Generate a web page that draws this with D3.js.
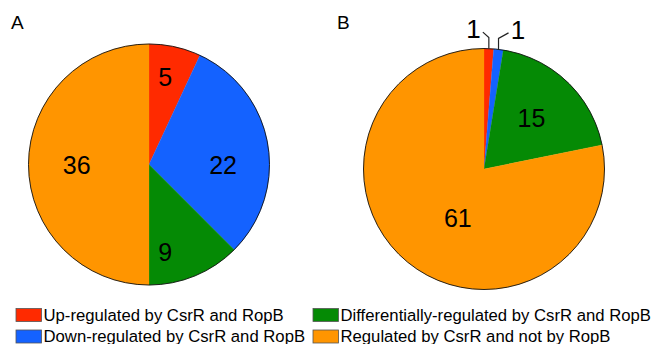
<!DOCTYPE html>
<html lang="en">
<head>
    <meta charset="UTF-8">
    <script type="text/javascript" src="https://cdn.jsdelivr.net/npm/d3@7/dist/d3.min.js"></script>
    <title>CsrR / RopB pies</title>
    <style>
        body { margin: 0; background: #fff; }
        text { font-family: "Liberation Sans", Arial, sans-serif; }
    </style>
</head>
<body>
</body>
<script>
    // data
    var categories = ["Up-regulated by CsrR and RopB", "Down-regulated by CsrR and RopB",
        "Differentially-regulated by CsrR and RopB", "Regulated by CsrR and not by RopB"];
    var valuesA = [5, 22, 9, 36];
    var valuesB = [1, 1, 15, 61];
    var panelNames = ["A", "B"];
    var colors = ["#ff2a00", "#1462ff", "#058a05", "#ff9500"];

    var width = 652, height = 344;
    var radius = 120.5;

    var svg = d3.select("body")
        .append("svg")
        .attr("width", width)
        .attr("height", height);

    var pie = d3.pie().sort(null).value(d => d);
    var arc = d3.arc().innerRadius(0).outerRadius(radius);

    // label placement: [angle nudge in degrees, radius factor] per slice (excel "best fit")
    var labelFitA = [[-2, 0.74], [10, 0.615], [12, 0.74], [0, 0.6]];
    var labelFitB = [[0, 0], [0, 0], [-1, 0.58], [-11, 0.46]];

    function drawPie(values, fit, cx, cy, name, lx, ly) {
        var g = svg.append("g").attr("transform", "translate(" + cx + "," + cy + ")");
        var total = d3.sum(values);
        var arcs = pie(values);

        g.selectAll("path.slice")
            .data(arcs)
            .enter()
            .append("path")
            .attr("class", "slice")
            .attr("d", arc)
            .attr("fill", (d, i) => colors[i])
            .attr("stroke", (d, i) => colors[i])
            .attr("stroke-width", 0.3);

        g.append("circle")
            .attr("r", radius)
            .attr("fill", "none")
            .attr("stroke", "#111")
            .attr("stroke-width", 0.9);

        arcs.forEach(function (d, i) {
            var frac = d.value / total;
            var mid = (d.startAngle + d.endAngle) / 2;
            if (frac > 0.03) {
                mid += fit[i][0] * Math.PI / 180;
                var r = radius * fit[i][1];
                g.append("text")
                    .attr("x", Math.sin(mid) * r)
                    .attr("y", -Math.cos(mid) * r)
                    .attr("dy", "0.36em")
                    .attr("text-anchor", "middle")
                    .attr("font-size", 25)
                    .text(d.value);
            } else {
                // tiny slice: label outside with a leader line
                var px = Math.sin(mid) * radius, py = -Math.cos(mid) * radius;
                var side = (i === 0) ? -1 : 1;
                var ex = px, ey = py - 11;
                var tx = ex + side * (i === 0 ? 6 : 10), ty = ey - 5.5;
                g.append("path")
                    .attr("d", "M" + px + "," + py + "L" + ex + "," + ey + "L" + tx + "," + ty)
                    .attr("fill", "none")
                    .attr("stroke", "#222")
                    .attr("stroke-width", 1.2);
                g.append("text")
                    .attr("x", tx + side * 9.5)
                    .attr("y", ty - 3)
                    .attr("dy", "0.36em")
                    .attr("text-anchor", "middle")
                    .attr("font-size", 26)
                    .text(d.value);
            }
        });

        svg.append("text")
            .attr("x", lx)
            .attr("y", ly)
            .attr("font-size", 19)
            .text(name);
    }

    drawPie(valuesA, labelFitA, 149, 164.5, panelNames[0], 11, 29);
    drawPie(valuesB, labelFitB, 484, 169, panelNames[1], 337, 29);

    // legend, two columns
    var legend = svg.append("g");
    var colX = [16, 313], rowY = [308.5, 330];
    categories.forEach(function (c, i) {
        var col = (i === 0 || i === 1) ? 0 : 1;
        var row = i % 2;
        var lg = legend.append("g")
            .attr("transform", "translate(" + colX[col] + "," + rowY[row] + ")");
        lg.append("rect")
            .attr("width", 25.5)
            .attr("height", 13)
            .attr("fill", colors[i])
            .attr("stroke", "#555")
            .attr("stroke-width", 0.8);
        lg.append("text")
            .attr("x", 27.5)
            .attr("y", 12.3)
            .attr("font-size", 16.7)
            .text(c);
    });
</script>
</html>
